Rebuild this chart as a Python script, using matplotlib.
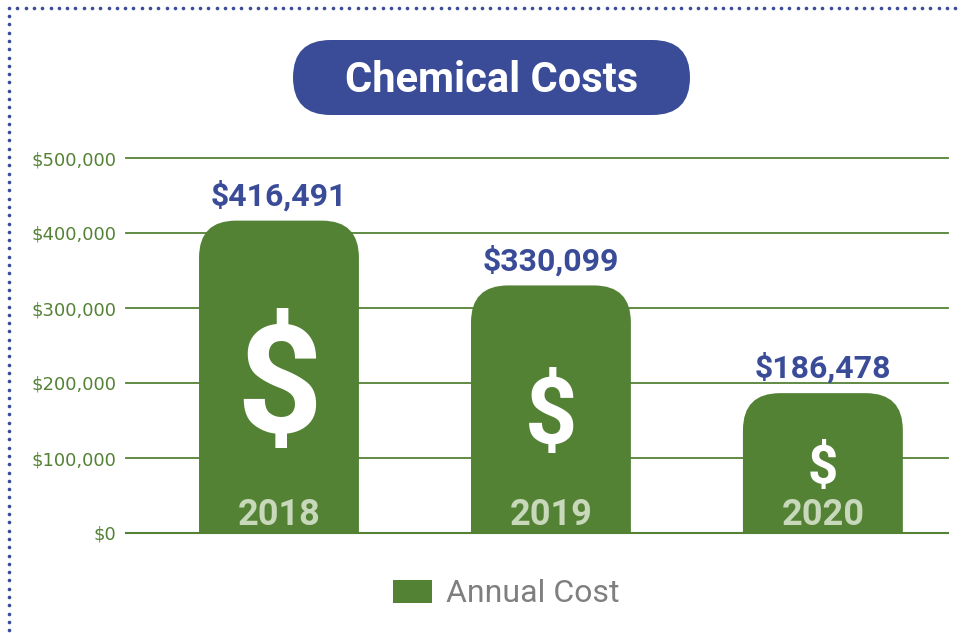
import matplotlib
matplotlib.use("Agg")
import matplotlib.pyplot as plt
import numpy as np
from matplotlib.patches import FancyBboxPatch, Rectangle
from matplotlib.lines import Line2D

# data
years = ["2018", "2019", "2020"]
costs = [416491, 330099, 186478]
tick_values = [0, 100000, 200000, 300000, 400000, 500000]
tick_labels = ["$0", "$100,000", "$200,000", "$300,000", "$400,000", "$500,000"]
dollar_sizes = [108, 66, 38]   # size of the big "$" inside each bar

green = "#548235"
blue = "#3a4c98"
W, H = 962, 633

fig = plt.figure(figsize=(W / 100, H / 100), dpi=100)


def fx(px):
    return px / W


def fy(py):
    return 1 - py / H


# axes placed so $0 sits at y=533 and $500,000 at y=158
ax = fig.add_axes([fx(126), fy(533), fx(948) - fx(126), fy(158) - fy(533)])
x = np.arange(len(years))
ax.set_xlim(-0.5625, 2.46)
ax.set_ylim(0, 500000)
for s in ax.spines.values():
    s.set_visible(False)
ax.set_xticks([])
ax.set_yticks(tick_values)
ax.set_yticklabels(tick_labels, color=green, fontsize=13, family="DejaVu Sans")
ax.tick_params(axis="y", length=0, pad=7)

for t in tick_values:
    ax.axhline(t, color=green, lw=1.3, zorder=0, clip_on=False)

# rounded top bars
bar_w = 0.588
ax_w_px = (948 - 126)
ax_h_px = (533 - 158)
ux = (ax.get_xlim()[1] - ax.get_xlim()[0]) / ax_w_px   # data x per px
uy = (ax.get_ylim()[1] - ax.get_ylim()[0]) / ax_h_px   # data y per px
r_px = 37
aspect = uy / ux
for i, v in enumerate(costs):
    r_y = r_px * uy
    p = FancyBboxPatch((x[i] - bar_w / 2, -r_y), bar_w, v + r_y,
                       boxstyle=f"round,pad=0,rounding_size={r_px * ux}",
                       mutation_aspect=aspect, fc=green, ec="none", zorder=2)
    ax.add_patch(p)
    ax.annotate(f"${v:,}", xy=(x[i], v), xytext=(0, 11), textcoords="offset points",
                ha="center", va="baseline", color=blue, fontsize=23,
                fontweight="bold", family="Roboto", zorder=3)
    ax.annotate("$", xy=(x[i], v / 2), xytext=(0, -0.095 * dollar_sizes[i]),
                textcoords="offset points", ha="center", va="center", color="white",
                fontsize=dollar_sizes[i], fontweight="bold", family="Roboto", zorder=3)
    ax.annotate(years[i], xy=(x[i], 0), xytext=(0, 6), textcoords="offset points",
                ha="center", va="baseline", color="#c8d8bb", fontsize=26,
                fontweight="bold", family="Roboto", zorder=3)
ax.axhline(0, color=green, lw=1.5, zorder=4, clip_on=False)

# title pill
fig.patches.append(FancyBboxPatch((fx(293), fy(115)), fx(690) - fx(293), fy(40) - fy(115),
                                  boxstyle="round,pad=0,rounding_size=0.039",
                                  mutation_aspect=W / H,
                                  transform=fig.transFigure, fc=blue, ec="none"))
fig.text(fx(492), fy(92), "Chemical Costs", ha="center", va="baseline", color="white",
         fontsize=30, fontweight="bold", family="Roboto")

# legend
fig.patches.append(Rectangle((fx(393), fy(603)), fx(432) - fx(393), fy(580) - fy(603),
                             transform=fig.transFigure, fc=green, ec="none"))
fig.text(fx(446), fy(602), "Annual Cost", ha="left", va="baseline", color="#7f7f7f",
         fontsize=23, family="Roboto")

# dotted frame
dots_x = np.arange(9, W, 8.3)
fig.add_artist(Line2D(fx(dots_x), np.full(len(dots_x), fy(8)), transform=fig.transFigure,
                      ls="none", marker="o", ms=2.6, color=blue, mew=0))
dots_y = np.arange(16, H, 8.3)
fig.add_artist(Line2D(np.full(len(dots_y), fx(9)), fy(dots_y), transform=fig.transFigure,
                      ls="none", marker="o", ms=2.6, color=blue, mew=0))

fig.savefig("out.png", dpi=100)
